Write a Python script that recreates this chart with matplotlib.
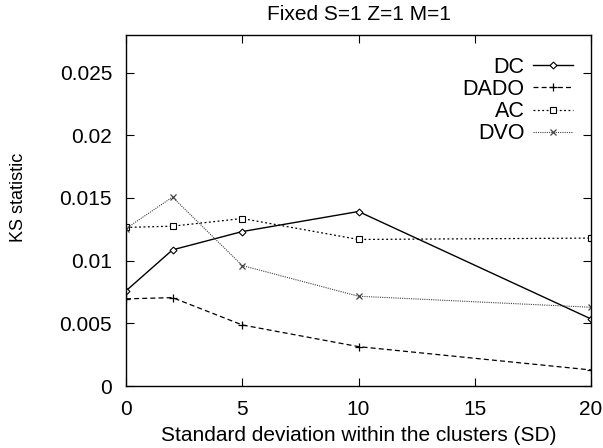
import matplotlib
matplotlib.use("Agg")
import matplotlib.pyplot as plt

plt.rcParams['font.family'] = ['Liberation Sans', 'DejaVu Sans']

sd = [0, 2, 5, 10, 20]
dc = [0.00759, 0.01086, 0.01232, 0.01392, 0.00535]
dado = [0.00695, 0.00705, 0.00487, 0.00314, 0.00128]
ac = [0.01265, 0.01275, 0.01336, 0.01169, 0.0118]
dvo = [0.01256, 0.01507, 0.00961, 0.00716, 0.00628]

fig = plt.figure(figsize=(6.03, 4.48), dpi=100)
ax = fig.add_axes([126/603, 1-386/448, (591-126)/603, (386-35)/448])

ax.plot(sd, dc, color='black', lw=1.0, ls='-', marker='D', ms=3.5, mfc='white', mew=0.8, label='DC')
ax.plot(sd, dado, color='black', lw=0.9, ls=(0, (4, 2.5)), marker='+', ms=6, mew=0.9, label='DADO')
ax.plot(sd, ac, color='black', lw=0.9, ls=(0, (1.5, 2)), marker='s', ms=5, mfc='white', mew=0.8, label='AC')
ax.plot(sd, dvo, color='#444444', lw=0.8, ls=(0, (1, 1)), marker='x', ms=5, mew=0.9, label='DVO')

ax.set_xlim(0, 20)
ax.set_ylim(0, 0.028)
ax.set_xticks([0, 5, 10, 15, 20])
ax.set_yticks([0, 0.005, 0.01, 0.015, 0.02, 0.025])
ax.set_yticklabels(['0', '0.005', '0.01', '0.015', '0.02', '0.025'])
ax.tick_params(direction='in', length=6, width=0.8, top=True, right=True, labelsize=15)
ax.tick_params(axis='y', pad=10)
ax.tick_params(axis='x', pad=10)
for s in ax.spines.values():
    s.set_linewidth(1.0)

ax.set_xlabel('Standard deviation within the clusters (SD)', fontsize=15, labelpad=5)
ax.set_ylabel('KS statistic', fontsize=13)
ax.yaxis.set_label_coords(-0.212, 0.538)
ax.set_title('Fixed S=1 Z=1 M=1', fontsize=15, pad=11)

leg = ax.legend(loc='upper right', frameon=False, markerfirst=False, fontsize=15.5,
                handlelength=1.85, handletextpad=0.4, labelspacing=0.05,
                borderaxespad=0.0, bbox_to_anchor=(0.98, 0.962))
for t in leg.get_texts():
    t.set_ha('right')

fig.savefig('out.png', dpi=100)
